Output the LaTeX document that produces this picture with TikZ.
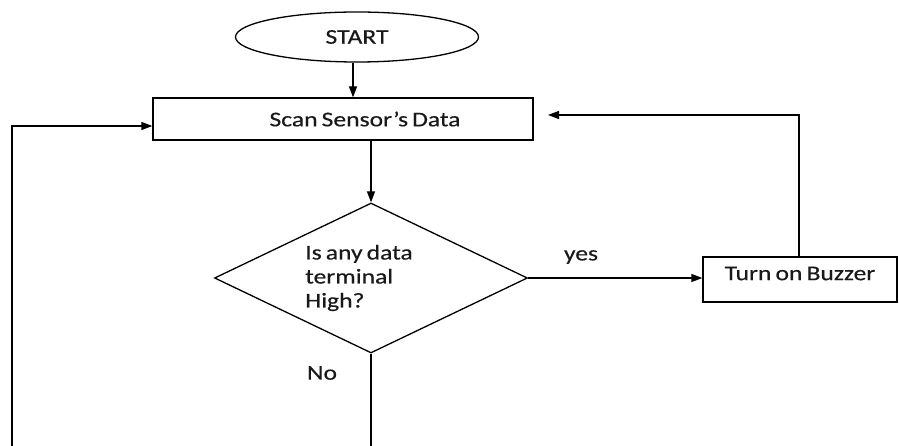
\documentclass[tikz,border=0pt]{standalone}
\usepackage{fontspec}
\setmainfont{Carlito}[FakeStretch=1.22, WordSpace=0.7, FakeBold=0.4]
\usetikzlibrary{shapes.geometric,arrows.meta}

\tikzset{
  x=1pt, y=-1pt,
  line/.style={draw=black, line width=1.3pt},
  flow/.style={line, -{Triangle[length=11pt,width=8pt]}},
  txt/.style={font=\fontsize{21}{24}\selectfont, text=black!90, inner sep=0pt},
  term/.style={ellipse, line, minimum width=243pt, minimum height=50pt, inner sep=0pt},
  proc/.style={rectangle, line, inner sep=0pt},
  test/.style={diamond, line, minimum width=313pt, minimum height=150pt, inner sep=0pt, aspect=2.1},
}

\begin{document}
\begin{tikzpicture}
\useasboundingbox (0,0) rectangle (899,446);

% shapes
\node[term, txt] (start) at (357,37) {START};
\node[proc, minimum width=380pt, minimum height=42pt,
      label={[txt, xshift=22pt]center:Scan Sensor’s Data}] (scan) at (343,119) {};
\node[test, label={[txt, align=left, xshift=-12pt]center:Is any data\\terminal\\High?}] (dec) at (371,278) {};
\node[proc, minimum width=194pt, minimum height=45pt,
      label={[txt, yshift=6pt]center:Turn on Buzzer}] (buz) at (800,279.5) {};

% free ends of the loops
\coordinate (ret) at (548,115);
\coordinate (decbot) at (371,447);
\coordinate (loopbot) at (12,447);
\coordinate (looptop) at (12,126);

% connectors
\draw[flow] (start.south -| 353,0) -- (scan.north -| 353,0);
\draw[flow] (dec.north |- scan.south) -- (dec.north);
\draw[flow] (dec.east) -- (dec.east -| buz.west);
\draw[flow] (buz.north -| 799,0) |- (ret);
\draw[line] (dec.south) -- (decbot);
\draw[flow] (loopbot) -- (looptop) -- (scan.west |- looptop);

% branch labels
\node[txt] (yes) at (581,257) {yes};
\node[txt] (no) at (322,373) {No};
\end{tikzpicture}
\end{document}
